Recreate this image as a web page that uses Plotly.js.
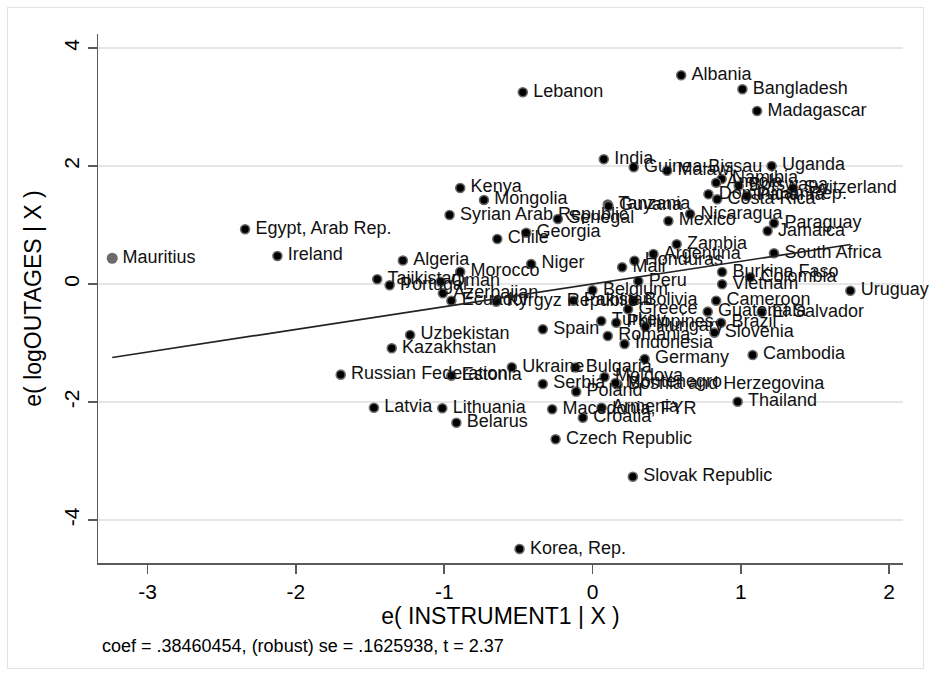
<!DOCTYPE html>
<html>
<head>
<meta charset="utf-8">
<script src="https://cdn.plot.ly/plotly-3.0.1.min.js"></script>
<style>
html,body{margin:0;padding:0;background:#fff;}
#frame{position:absolute;left:7px;top:7px;width:917px;height:662px;border:1px solid #e3e3e3;box-sizing:border-box;}
#chart{position:absolute;left:0;top:0;width:932px;height:677px;}
</style>
</head>
<body>
<div id="frame"></div>
<div id="chart"></div>
<script>
// ---- data ----
const countries = [
  "Egypt, Arab Rep.","Ireland","Algeria","Kenya","Mongolia","Syrian Arab Republic","Chile",
  "Tajikistan","Portugal","Oman","Morocco","Azerbaijan","Ecuador","Kyrgyz Republic","Niger",
  "Uzbekistan","Spain","Kazakhstan","Russian Federation","Estonia","Latvia","Lithuania","Belarus",
  "Ukraine","Lebanon","Albania","Bangladesh","Madagascar","India","Guinea-Bissau","Malawi","Uganda",
  "Namibia","Angola","Botswana","Switzerland","Dominican Rep.","Costa Rica","Panama","Tanzania",
  "Guyana","Senegal","Georgia","Mexico","Nicaragua","Paraguay","Jamaica","Zambia","Argentina",
  "Honduras","Mali","South Africa","Peru","Burkina Faso","Colombia","Vietnam","Uruguay","Belgium",
  "Pakistan","Bolivia","Greece","Guatemala","Cameroon","El Salvador","Brazil","Slovenia","Turkey",
  "Philippines","Hungary","Romania","Indonesia","Germany","Cambodia","Thailand","Bulgaria","Moldova",
  "Serbia","Poland","Bosnia and Herzegovina","Montenegro","Macedonia, FYR","Armenia","Croatia",
  "Czech Republic","Slovak Republic","Korea, Rep."
];
const instrumentResid = [
  -2.343,-2.125,-1.279,-0.892,-0.732,-0.964,-0.642,
  -1.452,-1.368,-1.024,-0.892,-1.009,-0.952,-0.649,-0.414,
  -1.230,-0.335,-1.354,-1.698,-0.952,-1.474,-1.013,-0.918,
  -0.544,-0.470,0.598,1.011,1.110,0.076,0.278,0.503,1.208,
  0.871,0.834,0.986,1.354,0.782,0.841,1.042,0.103,
  0.108,-0.234,-0.447,0.512,0.658,1.224,1.181,0.568,0.411,
  0.283,0.200,1.224,0.309,0.874,1.063,0.874,1.739,0.000,
  -0.129,0.280,0.240,0.777,0.834,1.141,0.867,0.822,0.059,
  0.160,0.357,0.103,0.216,0.352,1.080,0.979,-0.115,0.081,
  -0.335,-0.110,0.170,0.155,-0.272,0.061,-0.065,
  -0.249,0.272,-0.492
];
const outagesResid = [
  0.927,0.475,0.398,1.627,1.424,1.169,0.763,
  0.081,-0.022,0.039,0.208,-0.158,-0.283,-0.300,0.339,
  -0.864,-0.766,-1.090,-1.537,-1.554,-2.097,-2.107,-2.351,
  -1.412,3.249,3.537,3.300,2.932,2.114,1.978,1.920,2.000,
  1.780,1.717,1.666,1.622,1.520,1.436,1.492,1.347,
  1.322,1.102,0.869,1.068,1.186,1.029,0.898,0.673,0.508,
  0.395,0.283,0.520,0.047,0.203,0.114,-0.005,-0.114,-0.107,
  -0.283,-0.283,-0.429,-0.469,-0.283,-0.480,-0.656,-0.825,-0.627,
  -0.656,-0.724,-0.881,-1.017,-1.271,-1.203,-1.995,-1.415,-1.576,
  -1.695,-1.825,-1.703,-1.678,-2.124,-2.097,-2.266,
  -2.632,-3.266,-4.492
];
// highlighted observation (drawn in grey)
const hiCountries = ["Mauritius"];
const hiInstrument = [-3.239];
const hiOutages = [0.436];
// regression results
const coef = 0.38460454;
const se = 0.1625938;
const tstat = 2.37;
const xTicks = [-3,-2,-1,0,1,2];
const yTicks = [-4,-2,0,2,4];

const allX = instrumentResid.concat(hiInstrument);
const xMin = Math.min(...allX), xMax = Math.max(...allX);
const fitX = [xMin, xMax];
const fitY = fitX.map(v => coef * v);

const FONT = "Liberation Sans, Arial, Helvetica, sans-serif";
const labelFont = {family: FONT, size: 18, color: "#111"};

const traces = [
  {
    type: "scatter", mode: "markers",
    x: instrumentResid, y: outagesResid,
    marker: {size: 9, color: "#000", line: {color: "#6a6a6a", width: 1.6}},
    hoverinfo: "skip", cliponaxis: false
  },
  {
    type: "scatter", mode: "markers",
    x: hiInstrument, y: hiOutages,
    marker: {size: 11, color: "#6b6b6b", line: {width: 0}},
    hoverinfo: "skip", cliponaxis: false
  },
  {
    type: "scatter", mode: "markers+text",
    x: instrumentResid.concat(hiInstrument), y: outagesResid.concat(hiOutages),
    text: countries.concat(hiCountries),
    textposition: "middle right", textfont: labelFont,
    marker: {size: 15, color: "rgba(0,0,0,0)", line: {width: 0}},
    hoverinfo: "skip", cliponaxis: false
  },
  {
    type: "scatter", mode: "lines",
    x: fitX, y: fitY,
    line: {color: "#222", width: 1.7},
    hoverinfo: "skip"
  }
];

const layout = {
  width: 932, height: 677,
  margin: {l: 98, r: 29, t: 34, b: 114},
  paper_bgcolor: "rgba(0,0,0,0)",
  plot_bgcolor: "#fff",
  showlegend: false,
  hovermode: false,
  font: {family: FONT, color: "#000"},
  xaxis: {
    range: [-3.335, 2.094],
    tickvals: xTicks, ticktext: xTicks.map(String),
    showgrid: false, zeroline: false,
    showline: true, linecolor: "#5a5a5a", linewidth: 1.5,
    ticks: "outside", ticklen: 9, tickwidth: 1.5, tickcolor: "#5a5a5a",
    tickfont: {family: FONT, size: 21, color: "#000"},
    title: {text: "e( INSTRUMENT1 | X )", font: {family: FONT, size: 23, color: "#000"}, standoff: 3},
    automargin: false
  },
  yaxis: {
    range: [-4.729, 4.237],
    tickvals: yTicks, ticktext: yTicks.map(String),
    tickangle: -90,
    showgrid: true, gridcolor: "#e6e6e6", gridwidth: 1.5,
    zeroline: false,
    showline: true, linecolor: "#5a5a5a", linewidth: 1.5,
    ticks: "outside", ticklen: 9, tickwidth: 1.5, tickcolor: "#5a5a5a",
    tickfont: {family: FONT, size: 21, color: "#000"},
    title: {text: "e( logOUTAGES | X )", font: {family: FONT, size: 23, color: "#000"}, standoff: 12},
    automargin: false
  },
  annotations: [{
    xref: "paper", yref: "paper", x: 0.0025, y: -0.157,
    xanchor: "left", yanchor: "middle", showarrow: false,
    text: "coef = ." + String(coef).split(".")[1] + ", (robust) se = ." + String(se).split(".")[1] + ", t = " + tstat.toFixed(2),
    font: {family: FONT, size: 18, color: "#000"}
  }]
};

Plotly.newPlot("chart", traces, layout, {staticPlot: true, displayModeBar: false});
</script>
</body>
</html>
